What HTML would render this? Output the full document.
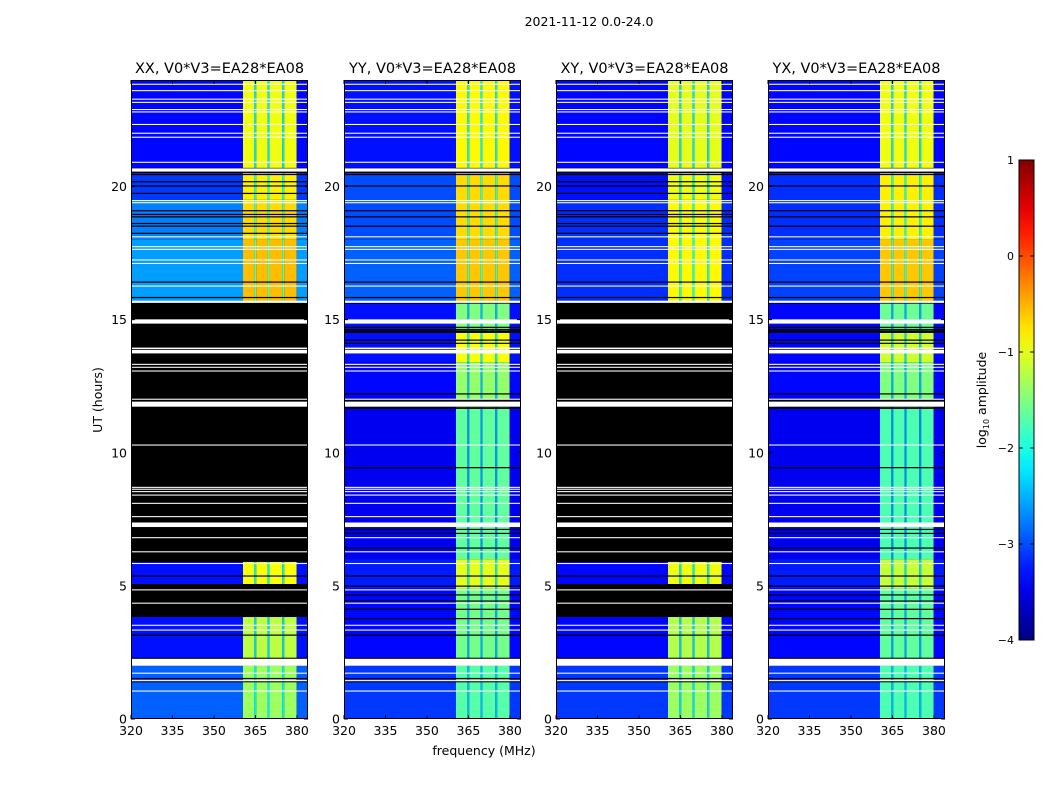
<!DOCTYPE html>
<html><head><meta charset="utf-8">
<style>
body{margin:0;background:#fff;}
svg text{font-family:"DejaVu Sans","Liberation Sans",sans-serif;fill:#000;}
</style></head>
<body>
<svg id="fig" width="1050" height="800" viewBox="0 0 1050 800" xmlns="http://www.w3.org/2000/svg">
<rect width="1050" height="800" fill="#fff"/>
<text x="589" y="26" font-size="12.5" text-anchor="middle">2021-11-12 0.0-24.0</text>
<text x="484" y="755" font-size="12.5" text-anchor="middle">frequency (MHz)</text>
<text transform="translate(102,400) rotate(-90)" font-size="12.5" text-anchor="middle">UT (hours)</text>
<g id="panels"></g>
<g id="cbar"></g>
</svg>
<script>
// ---- data ----
const panelTitles = ["XX, V0*V3=EA28*EA08","YY, V0*V3=EA28*EA08","XY, V0*V3=EA28*EA08","YX, V0*V3=EA28*EA08"];
const xTicks = [320,335,350,365,380];
const yTicks = [0,5,10,15,20];
const cbarTicks = [1,0,-1,-2,-3,-4];
// frequency bands: [f0,f1,kind]
const bands = [[320,360.5,"bg"],[360.5,364.6,"rfi"],[364.6,365.3,"gap"],[365.3,369.4,"rfi"],[369.4,370.1,"gap"],[370.1,374.7,"rfi"],[374.7,375.4,"gap"],[375.4,379.9,"rfi"],[379.9,384,"bg"]];
// data segments per panel: [hStart,hEnd,bgLevel,rfiLevel]
const segXX = [[20.7,24,-3.35,-0.95],[19.5,20.5,-3.1,-0.8],[18.0,19.5,-2.75,-0.7],[15.7,18.0,-2.6,-0.55],[5.07,5.9,-3.3,-0.9],[2.0,3.83,-3.3,-1.2],[0,2.0,-2.9,-1.35]];
const segYY = [[20.7,24,-3.3,-0.85],[18.0,20.5,-3.0,-0.7],[15.7,18.0,-2.9,-0.6],[14.6,15.6,-3.3,-1.5],[13.4,14.5,-3.3,-0.9],[12.0,13.4,-3.35,-1.4],[6.0,11.7,-3.45,-1.65],[4.9,6.0,-3.25,-1.0],[2.0,4.9,-3.35,-1.55],[0,2.0,-3.1,-1.7]];
const segXY = [[20.7,24,-3.35,-1.0],[19.5,20.5,-3.3,-0.95],[15.7,19.5,-3.15,-0.85],[5.07,5.9,-3.35,-0.95],[2.0,3.83,-3.35,-1.25],[0,2.0,-3.1,-1.35]];
const segYX = [[20.7,24,-3.35,-0.95],[18.0,20.5,-3.15,-0.8],[15.7,18.0,-3.05,-0.6],[14.6,15.6,-3.35,-1.6],[13.4,14.5,-3.35,-1.1],[12.0,13.4,-3.35,-1.5],[6.0,11.7,-3.45,-1.75],[4.9,6.0,-3.25,-1.15],[2.0,4.9,-3.35,-1.65],[0,2.0,-3.1,-1.75]];
const panelSegs = [segXX, segYY, segXY, segYX];
// thin black lines (hours), per panel
const blackXX = [20.45,20.18,20.02,19.74,19.09,18.95,18.86,18.61,18.51,18.24,16.41,15.83,5.37,3.15,2.28,1.52,1.40];
const blackYY = [20.45,20.02,19.09,18.86,18.51,16.41,15.83,14.71,14.63,14.55,14.23,14.11,12.21,11.67,9.44,7.12,6.97,6.42,5.37,4.99,4.66,4.43,4.12,3.77,3.15,2.28,1.52,1.40];
const panelBlack = [blackXX, blackYY, blackXX, blackYY];
// white flagged intervals (hours) common to all panels: [h0,h1]
const whiteFlags = [[23.82,23.86],[23.58,23.62],[23.26,23.30],[23.14,23.18],[22.87,22.91],[22.78,22.82],[22.31,22.35],[21.98,22.02],[21.83,21.87],[20.89,20.93],[20.56,20.68],[19.45,19.49],[19.37,19.41],[18.09,18.13],[17.72,17.76],[17.62,17.66],[17.22,17.26],[17.09,17.13],[16.24,16.28],[15.63,15.71],[14.85,15.01],[13.89,13.95],[13.73,13.86],[13.30,13.34],[13.19,13.23],[13.05,13.09],[11.99,12.03],[11.73,11.92],[10.27,10.31],[8.68,8.72],[8.61,8.65],[8.52,8.56],[8.39,8.43],[8.08,8.12],[7.58,7.62],[7.21,7.38],[6.79,6.83],[6.26,6.30],[5.82,5.86],[4.83,4.87],[4.33,4.37],[3.50,3.54],[3.32,3.36],[2.00,2.26],[1.70,1.74],[1.42,1.46],[1.03,1.07]];

// ---- geometry ----
const panelX = [131,344,556,768], PW=177, PT=80, PB=719;
const fMin=320, fMax=384, hMin=0, hMax=24;
function xS(i,f){return panelX[i]+(f-fMin)*PW/(fMax-fMin);}
function yS(h){return PB-(h-hMin)*(PB-PT)/(hMax-hMin);}
function jet(v){ // v in [-4,1]
  let t=(v+4)/5; t=Math.max(0,Math.min(1,t));
  const c=x=>Math.max(0,Math.min(1,x));
  const r=c(1.5-Math.abs(4*t-3)), g=c(1.5-Math.abs(4*t-2)), b=c(1.5-Math.abs(4*t-1));
  return `rgb(${Math.round(r*255)},${Math.round(g*255)},${Math.round(b*255)})`;
}
const NS="http://www.w3.org/2000/svg";
function mk(tag,attrs,parent){const e=document.createElementNS(NS,tag);for(const k in attrs)e.setAttribute(k,attrs[k]);parent.appendChild(e);return e;}

const panels=document.getElementById('panels');
for(let i=0;i<4;i++){
  const g=mk('g',{},panels);
  
  
  const base=mk('rect',{x:panelX[i],y:PT,width:PW,height:PB-PT,fill:'#000'},g);
  
  
  for(const s of panelSegs[i]){
    for(const b of bands){
      const lv = b[2]==="bg"? s[2] : b[2]==="rfi"? s[3] : s[2]+0.45*(s[3]-s[2]);
      const r=mk('rect',{x:xS(i,b[0]),y:yS(s[1]),width:xS(i,b[1])-xS(i,b[0]),height:yS(s[0])-yS(s[1]),fill:jet(lv)},g);
      
      
    }
  }
  for(const h of panelBlack[i]){
    const r=mk('rect',{x:panelX[i],y:yS(h)-0.6,width:PW,height:1.2,fill:'#000'},g);
    
    
  }
  for(const w of whiteFlags){
    const y1=yS(w[1]),y0=yS(w[0]);
    const r=mk('rect',{x:panelX[i],y:y1,width:PW,height:Math.max(1,y0-y1),fill:'#fff'},g);
    
    
  }
  const fr=mk('rect',{x:panelX[i]+0.5,y:PT+0.5,width:PW-1,height:PB-PT-1,fill:'none',stroke:'#000','stroke-width':1},g);
  
  
  const t=mk('text',{x:panelX[i]+PW/2,y:73,'font-size':'14.5','text-anchor':'middle'},g);
  t.textContent=panelTitles[i];
  
  
  for(const f of xTicks){
    const x=xS(i,f);
    mk('line',{x1:x,x2:x,y1:PB,y2:PB-4,stroke:'#000'},g);
    mk('line',{x1:x,x2:x,y1:PT,y2:PT+4,stroke:'#000'},g);
    const tl=mk('text',{x:x,y:PB+16,'font-size':'12.5','text-anchor':'middle'},g);
    tl.textContent=f;
    
    
  }
  for(const h of yTicks){
    const y=yS(h);
    mk('line',{x1:panelX[i],x2:panelX[i]+4,y1:y,y2:y,stroke:'#000'},g);
    mk('line',{x1:panelX[i]+PW,x2:panelX[i]+PW-4,y1:y,y2:y,stroke:'#000'},g);
    const tl=mk('text',{x:panelX[i]-4,y:y+4.5,'font-size':'12.5','text-anchor':'end'},g);
    tl.textContent=h;
    
    
  }
}
// colorbar
const cb=document.getElementById('cbar');


const CX=1019,CW=15,CT=160,CB=640;
const defs=mk('defs',{},cb);
const grad=mk('linearGradient',{id:'jetg',x1:0,y1:1,x2:0,y2:0},defs);
for(let k=0;k<=20;k++){mk('stop',{offset:k/20,'stop-color':jet(-4+5*k/20)},grad);}
mk('rect',{x:CX,y:CT,width:CW,height:CB-CT,fill:'url(#jetg)',stroke:'#000','stroke-width':1},cb);
for(const v of cbarTicks){
  const y=CB-(v+4)*(CB-CT)/5;
  mk('line',{x1:CX,x2:CX+4,y1:y,y2:y,stroke:'#000'},cb);
  mk('line',{x1:CX+CW,x2:CX+CW-4,y1:y,y2:y,stroke:'#000'},cb);
  const tl=mk('text',{x:CX-5,y:y+4,'font-size':'11','text-anchor':'end'},cb);
  tl.textContent=(v<0?'\u2212'+(-v):v);
  
  
}
const cl=mk('text',{transform:'translate(986,400) rotate(-90)','font-size':'12.5','text-anchor':'middle'},cb);
cl.innerHTML='log<tspan font-size="8" dy="3">10</tspan><tspan dy="-3"> amplitude</tspan>';


</script>
</body></html>
